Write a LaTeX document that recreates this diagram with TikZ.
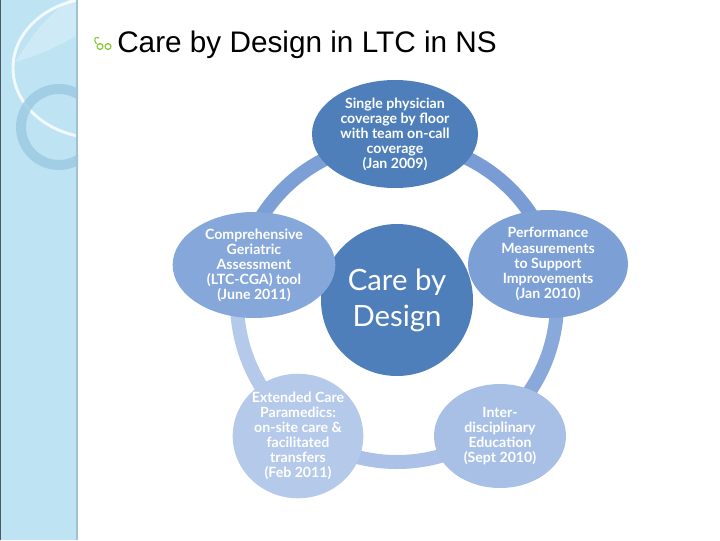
\documentclass[tikz,border=0pt]{standalone}
\usepackage{fontspec}
\setmainfont{Liberation Sans}
\newfontfamily\gill{Lato}
\usetikzlibrary{shapes}

\definecolor{sidebar}{HTML}{BEE3F3}
\definecolor{sideedge}{HTML}{9FC3D3}
\definecolor{ringblue}{HTML}{9CC9E2}
\definecolor{deepblue}{HTML}{4F7FBB}
\definecolor{midblue}{HTML}{7C9FD6}
\definecolor{leftblue}{HTML}{86A7DA}
\definecolor{paleblue}{HTML}{A9C0E6}
\definecolor{lightblue}{HTML}{B5C9EA}
\definecolor{bullet}{HTML}{8CC63F}

\begin{document}
\begin{tikzpicture}[x=0.75pt,y=-0.75pt,
  stage/.style={ellipse, inner sep=0pt, text=white, align=center,
    font=\gill\bfseries\fontsize{10.6}{11.3}\selectfont},
  link/.style={line width=10.5pt}]
\useasboundingbox (0,0) rectangle (720,540);

% side bar
\fill[sidebar] (0,0) rectangle (78,540);
\begin{scope}
\clip (0,0) rectangle (78,540);
\fill[white, opacity=0.25] (68,0) .. controls (40,25) .. (15,62) .. controls (40,55) and (60,45) .. (78,35) -- (78,0) -- cycle;
\draw[white, opacity=0.8, line width=2.2pt] (98,68) ellipse [x radius=85, y radius=70];
\draw[ringblue, opacity=0.8, line width=7.5pt] (59,127) circle (38);
\end{scope}
\draw[sideedge, line width=1.5pt] (77,0) -- (77,540);
\draw[black!60!sidebar, line width=1pt] (0.5,0) -- (0.5,540);

% title
\fill[bullet] (100,46.5) circle (3.6) (108,46.5) circle (3.6);
\fill[white] (100,46.5) circle (2.1) (108,46.5) circle (2.1);
\draw[bullet, line width=0.9pt] (96.5,44) .. controls (93,39) and (95,36) .. (99,38);
\node[anchor=base west, inner sep=0pt, font=\fontsize{22.3}{26}\selectfont] (title) at (117,52) {Care by Design in LTC in NS};

% ring (y points down, so angles run clockwise on the page)
\coordinate (hub) at (397,302);
\draw[link, midblue!90!deepblue] ([shift={(-90:160)}]hub) arc[start angle=-90, end angle=-14, radius=160];
\draw[link, midblue!70!paleblue] ([shift={(-14:160)}]hub) arc[start angle=-14, end angle=53,  radius=160];
\draw[link, paleblue!85!lightblue] ([shift={(53:160)}]hub) arc[start angle=53,  end angle=127, radius=160];
\draw[link, lightblue] ([shift={(127:160)}]hub) arc[start angle=127, end angle=192, radius=160];
\draw[link, midblue] ([shift={(192:160)}]hub) arc[start angle=192, end angle=270, radius=160];

% centre
\node[circle, fill=deepblue, minimum size=114pt, inner sep=0pt, text=white, align=center,
  font=\gill\fontsize{22}{27}\selectfont] (core) at (397,300) {Care by\\Design};

% the five stages
\node[stage, fill=deepblue, minimum width=124.5pt, minimum height=81pt] (physician) at (395,134)
  {Single physician\\coverage by floor\\with team on-call\\coverage\\(Jan 2009)};
\node[stage, fill=midblue, minimum width=120pt, minimum height=81pt] (measures) at (548,264)
  {Performance\\Measurements\\to Support\\Improvements\\(Jan 2010)};
\node[stage, fill=paleblue, minimum width=99pt, minimum height=78pt] (education) at (500,436)
  {Inter-\\disciplinary\\Education\\(Sept 2010)};
\node[stage, fill=lightblue, minimum width=88.5pt, minimum height=84pt] (paramedics) at (298,436)
  {Extended Care\\Paramedics:\\on-site care \&\\facilitated\\transfers\\(Feb 2011)};
\node[stage, fill=leftblue, minimum width=122pt, minimum height=79.5pt] (assessment) at (254,265)
  {Comprehensive\\Geriatric\\Assessment\\(LTC-CGA) tool\\(June 2011)};
\end{tikzpicture}
\end{document}
